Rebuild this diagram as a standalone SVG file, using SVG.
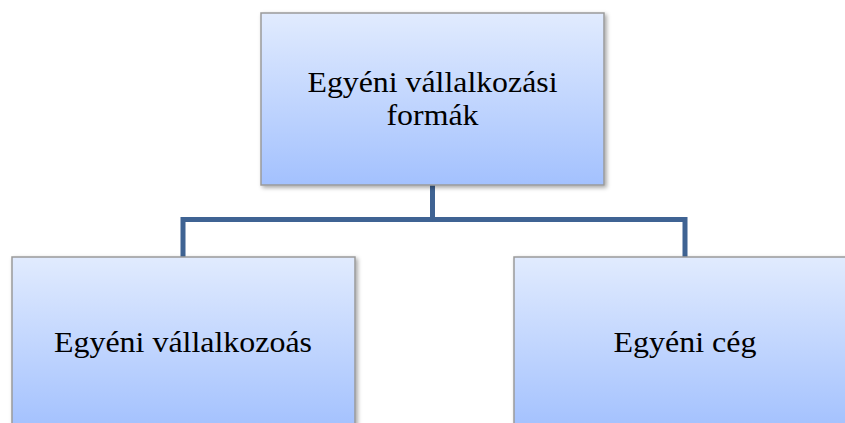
<svg xmlns="http://www.w3.org/2000/svg" width="845" height="423" viewBox="0 0 845 423">
<defs>
<linearGradient id="g" x1="0" y1="0" x2="0" y2="1">
<stop offset="0" stop-color="#e1ebfe"/>
<stop offset="1" stop-color="#a3c1fe"/>
</linearGradient>
<linearGradient id="g2" gradientUnits="userSpaceOnUse" x1="0" y1="257" x2="0" y2="429">
<stop offset="0" stop-color="#e1ebfe"/>
<stop offset="1" stop-color="#a3c1fe"/>
</linearGradient>
<filter id="sh" x="-5%" y="-5%" width="115%" height="115%">
<feDropShadow dx="2" dy="2" stdDeviation="2" flood-color="#000" flood-opacity="0.35"/>
</filter>
</defs>
<style>
.box{stroke:#9a9a9a;stroke-width:1.5;filter:url(#sh)}
.t{font-family:"Liberation Serif","Times New Roman",serif;font-size:30px;fill:#000;text-anchor:middle}
.c{fill:none;stroke:#3f6393;stroke-width:5}
</style>
<g id="connectors">
<path class="c" d="M432.5 185 V219.5 H183 V257"/>
<path class="c" d="M432.5 219.5 H685 V257"/>
</g>
<g id="top">
<rect class="box" x="261" y="13" width="343" height="172" fill="url(#g)"/>
<text class="t" x="432.5" y="92" textLength="250" lengthAdjust="spacingAndGlyphs">Egyéni vállalkozási</text>
<text class="t" x="432.5" y="125" textLength="92" lengthAdjust="spacingAndGlyphs">formák</text>
</g>
<g id="left">
<rect class="box" x="12" y="257" width="343" height="172" fill="url(#g2)"/>
<text class="t" x="183" y="352" textLength="258" lengthAdjust="spacingAndGlyphs">Egyéni vállalkozoás</text>
</g>
<g id="right">
<rect class="box" x="514" y="257" width="343" height="172" fill="url(#g2)"/>
<text class="t" x="685" y="352" textLength="143" lengthAdjust="spacingAndGlyphs">Egyéni cég</text>
</g>
</svg>
